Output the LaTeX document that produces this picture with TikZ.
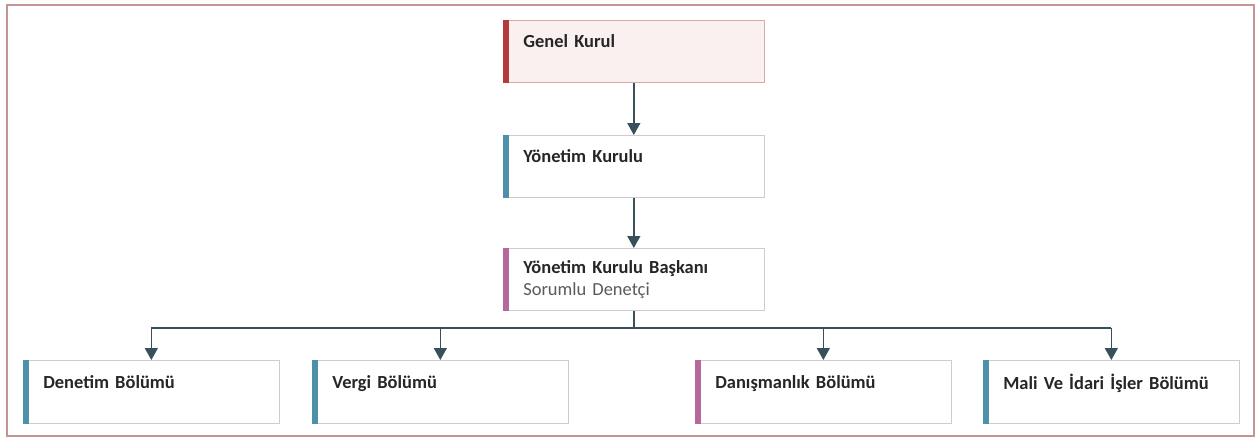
\documentclass[tikz,border=0pt]{standalone}
\usepackage{fontspec}
\setmainfont{Carlito}
\usepackage{tikz}
\usetikzlibrary{calc,arrows.meta}
\definecolor{frame}{HTML}{C49393}
\definecolor{boxline}{HTML}{CDCDCD}
\definecolor{gkfill}{HTML}{FBF0F0}
\definecolor{gkline}{HTML}{D9A8A8}
\definecolor{barred}{HTML}{B23B3B}
\definecolor{barblue}{HTML}{4E8FAA}
\definecolor{barpink}{HTML}{B4689C}
\definecolor{wire}{HTML}{36505C}
\definecolor{txt}{HTML}{262626}
\definecolor{txtm}{HTML}{5A5A5A}
\tikzset{
  unit/.style={draw=boxline, line width=0.4pt, fill=white, anchor=north west,
    inner xsep=0.4cm, inner ysep=0pt, align=left, text=txt,
    font=\fontsize{10.5}{13}\selectfont\bfseries, text depth=0.42cm},
  topunit/.style={unit, minimum width=5.22cm, minimum height=1.25cm, text width=4.42cm},
  lowunit/.style={unit, minimum width=5.12cm, minimum height=1.27cm, text width=4.32cm},
  wire/.style={draw=wire, line width=0.8pt},
  conn/.style={wire, -{Triangle[width=0.26cm,length=0.24cm]}},
}
\newcommand{\edgebar}[2]{\fill[#2] (#1.north west) rectangle ([xshift=0.12cm]#1.south west);}

\begin{document}
\begin{tikzpicture}[x=0.02cm,y=-0.02cm]
  \useasboundingbox (0,0) rectangle (1258,443);
  \draw[frame, line width=1.1pt] (7,5) rectangle (1254,436);

  \node[topunit, fill=gkfill, draw=gkline] (gk) at (503,20) {Genel Kurul};
  \node[topunit] (yk) at (503,135) {Yönetim Kurulu};
  \node[topunit, text depth=] (ykb) at (503,248)
    {Yönetim Kurulu Başkanı\\{\mdseries\color{txtm}Sorumlu Denetçi}};

  \node[lowunit] (den) at (23,360) {Denetim Bölümü};
  \node[lowunit] (verg) at (312,360) {Vergi Bölümü};
  \node[lowunit] (dan) at (695,360) {Danışmanlık Bölümü};
  \node[lowunit] (mali) at (983,360) {Mali Ve İdari İşler Bölümü};

  % coloured left edges
  \edgebar{gk}{barred}
  \edgebar{yk}{barblue}
  \edgebar{ykb}{barpink}
  \edgebar{den}{barblue}
  \edgebar{verg}{barblue}
  \edgebar{dan}{barpink}
  \edgebar{mali}{barblue}

  \draw[conn] (gk) -- (yk);
  \draw[conn] (yk) -- (ykb);

  \coordinate (bus) at (632,328); % branching line
  \draw[wire] (ykb.south) -- (ykb.south |- bus);
  \draw[wire] (bus -| den.north) -- (bus -| mali.north);
  \foreach \u in {den,verg,dan,mali}
    \draw[conn] (bus -| \u.north) -- (\u.north);
\end{tikzpicture}
\end{document}
